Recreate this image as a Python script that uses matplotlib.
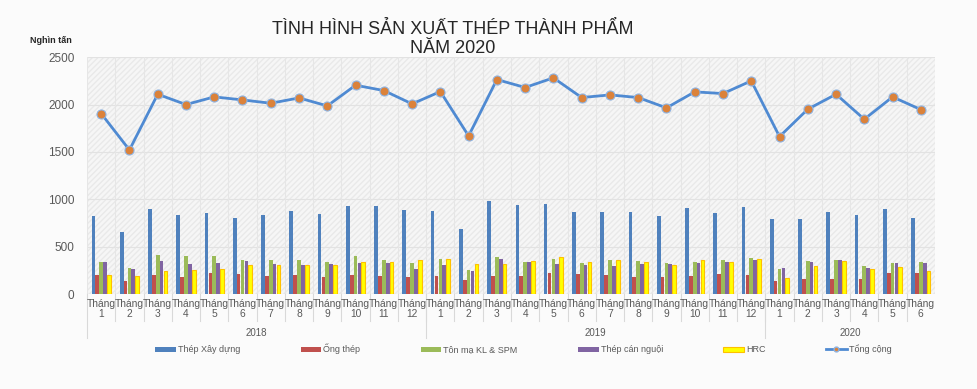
import matplotlib
matplotlib.use("Agg")
import matplotlib.pyplot as plt
from matplotlib.patches import Patch, Rectangle
from matplotlib.lines import Line2D

plt.rcParams['font.family'] = ['Liberation Sans', 'DejaVu Sans']

# data (nghìn tấn)
years = ['2018', '2019', '2020']
months_per_year = [12, 12, 6]
month_labels = [str(m) for m in range(1, 13)] + [str(m) for m in range(1, 13)] + [str(m) for m in range(1, 7)]

thep_xay_dung = [826, 657, 897, 837, 855, 808, 830, 879, 840, 925, 925, 890,
                 876, 683, 979, 943, 954, 869, 862, 869, 824, 908, 855, 919,
                 792, 792, 866, 838, 898, 799]
ong_thep = [197, 137, 200, 183, 225, 211, 187, 204, 183, 204, 187, 176,
            190, 148, 190, 190, 225, 208, 200, 176, 180, 187, 211, 197,
            134, 162, 158, 162, 218, 222]
ton_ma = [338, 275, 415, 398, 398, 363, 363, 363, 338, 405, 363, 324,
          373, 253, 391, 338, 366, 327, 359, 352, 324, 341, 359, 384,
          268, 348, 359, 292, 324, 341]
thep_can_nguoi = [341, 260, 348, 320, 324, 352, 313, 303, 317, 324, 324, 264,
                  310, 246, 373, 338, 320, 303, 299, 320, 320, 324, 334, 363,
                  275, 334, 363, 275, 331, 324]
hrc = [200, 187, 243, 253, 268, 306, 310, 310, 303, 341, 341, 363,
       366, 313, 313, 352, 394, 341, 355, 341, 303, 355, 341, 366,
       172, 299, 352, 264, 289, 243]
tong_cong = [1905, 1521, 2109, 2000, 2081, 2049, 2014, 2070, 1986, 2204, 2148, 2007,
             2137, 1669, 2264, 2180, 2282, 2074, 2102, 2074, 1965, 2134, 2116, 2250,
             1662, 1951, 2109, 1845, 2081, 1947]

series = [
    ('Thép Xây dựng', thep_xay_dung, '#4F81BD', '#4F81BD'),
    ('Ống thép', ong_thep, '#C0504D', '#C0504D'),
    ('Tôn mạ KL & SPM', ton_ma, '#9BBB59', '#9BBB59'),
    ('Thép cán nguội', thep_can_nguoi, '#8064A2', '#8064A2'),
    ('HRC', hrc, '#FFFF00', '#FFC000'),
]

n = len(tong_cong)
x = list(range(n))

fig = plt.figure(figsize=(9.78, 3.89), dpi=100, facecolor='#fbfbfb')
ax = fig.add_axes([0.089, 0.244, 0.867, 0.609])
ax.set_facecolor('#f6f6f6')
ax.add_patch(Rectangle((0, 0), 1, 1, transform=ax.transAxes, facecolor='none',
                       edgecolor='#e9e9e9', hatch='//////', linewidth=0, zorder=0))

w = 0.13
for i, (name, vals, fc, ec) in enumerate(series):
    off = (i - 2) * 0.137
    ax.bar([xi + off for xi in x], vals, width=w, color=fc, edgecolor=ec,
           linewidth=0.8 if name == 'HRC' else 0, zorder=3)

ax.plot(x, tong_cong, color='#4F8AD2', linewidth=2, marker='o', markersize=6.5,
        markerfacecolor='#DB823A', markeredgecolor='#8DB3E2', markeredgewidth=0.8, zorder=4)

ax.set_xlim(-0.5, n - 0.5)
ax.set_ylim(0, 2500)
ax.set_yticks(range(0, 2501, 500))
ax.tick_params(axis='y', length=0, labelsize=8.5, labelcolor='#595959', pad=9)
ax.set_xticks([])
for s in ax.spines.values():
    s.set_visible(False)
for yv in range(500, 2501, 500):
    ax.axhline(yv, color='#e2e2e2', linewidth=0.8, zorder=1)
for xv in range(n + 1):
    ax.axvline(xv - 0.5, color='#e6e6e6', linewidth=0.8, zorder=1)
ax.axhline(0, color='#d9d9d9', linewidth=0.8, zorder=2)

# two-level category axis
tr = ax.get_xaxis_transform()
for i in range(n):
    ax.text(i, -0.022, 'Tháng\n' + month_labels[i], transform=tr, ha='center', va='top',
            fontsize=7.4, color='#595959', linespacing=1.0)
    if i > 0:
        ax.plot([i - 0.5, i - 0.5], [0, -0.114], transform=tr, color='#d9d9d9',
                linewidth=0.8, clip_on=False)
start = 0
for yr, cnt in zip(years, months_per_year):
    ax.text(start + cnt / 2 - 0.5, -0.165, yr, transform=tr, ha='center', va='center',
            fontsize=7, color='#595959')
    ax.plot([start - 0.5, start - 0.5], [0, -0.186], transform=tr, color='#d9d9d9',
            linewidth=0.8, clip_on=False)
    start += cnt

fig.text(0.463, 0.945, 'TÌNH HÌNH SẢN XUẤT THÉP THÀNH PHẨM\nNĂM 2020', ha='center', va='top',
         fontsize=13, color='#262626', linespacing=1.15)
fig.text(0.031, 0.897, 'Nghìn tấn', ha='left', va='center', fontsize=6.5,
         fontweight='bold', color='#262626')

handles = [Patch(facecolor=fc, edgecolor=ec, linewidth=0.8 if name == 'HRC' else 0)
           for name, vals, fc, ec in series]
handles.append(Line2D([0], [0], color='#4F8AD2', linewidth=2, marker='o', markersize=3.5,
                      markerfacecolor='#DB823A', markeredgecolor='#8DB3E2'))
labels = [s[0] for s in series] + ['Tổng cộng']
fig.legend(handles, labels, loc='center', bbox_to_anchor=(0.535, 0.103), ncol=6, frameon=False,
           fontsize=6.5, handlelength=2.3, handleheight=0.5, handletextpad=0.2,
           columnspacing=6.7, labelcolor='#595959')

fig.savefig('out.png', dpi=100, facecolor=fig.get_facecolor())
